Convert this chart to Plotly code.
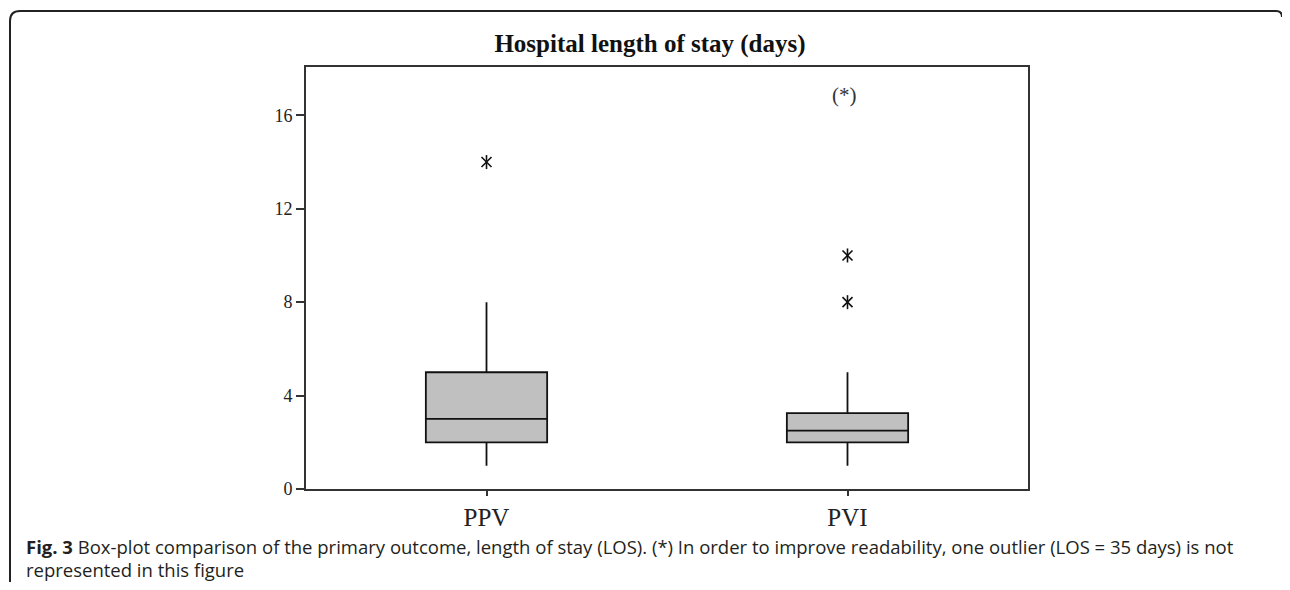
import plotly.graph_objects as go

# ---- data ----
groups = ["PPV", "PVI"]
q1 = [2, 2]
medians = [3, 2.5]
q3 = [5, 3.25]
lower_whisker = [1, 1]
upper_whisker = [8, 5]
outlier_groups = ["PPV", "PVI", "PVI"]
outlier_values = [14, 10, 8]
y_ticks = [0, 4, 8, 12, 16]
note_group = "PVI"
note_value = 16.85
title_text = "Hospital length of stay (days)"
caption_line1 = ("<b>Fig. 3</b> Box-plot comparison of the primary outcome, length of stay (LOS). "
                 "(*) In order to improve readability, one outlier (LOS = 35 days) is not")
caption_line2 = "represented in this figure"

# ---- layout geometry (page pixels; the page body has an 8px margin) ----
OFF = 8
W, H = 1290 - 2 * OFF, 590 - 2 * OFF
L, R, T, B = 306 - OFF, 1028 - OFF, 67 - OFF, 489 - OFF
pw, ph = R - L, B - T


def px(xpage):
    return (xpage - OFF - L) / pw


def py(ypage):
    return (B - (ypage - OFF)) / ph


fig = go.Figure()
fig.add_trace(go.Box(
    x=groups, q1=q1, median=medians, q3=q3,
    lowerfence=lower_whisker, upperfence=upper_whisker,
    fillcolor="#c0c0c0", line=dict(color="#111111", width=1.8),
    width=0.336, whiskerwidth=0, boxpoints=False, showlegend=False, hoverinfo="y",
))
for sym in ["x-thin-open", "line-ns-open"]:
    fig.add_trace(go.Scatter(
        x=outlier_groups, y=outlier_values, mode="markers",
        marker=dict(symbol=sym, size=10, color="#111111",
                    line=dict(color="#111111", width=1.6)),
        showlegend=False, hoverinfo="y",
    ))

fig.add_annotation(x=note_group, y=note_value, text="(*)", showarrow=False,
                   xshift=-3, font=dict(family="Liberation Serif", size=21, color="#333333"))

# frame around figure + caption
r = 10
path = (f"M {px(10)},{py(600)} L {px(10)},{py(11 + r)} "
        f"Q {px(10)},{py(11)} {px(10 + r)},{py(11)} "
        f"L {px(1276)},{py(11)} Q {px(1282)},{py(11)} {px(1282)},{py(17)}")
fig.add_shape(type="path", path=path, xref="paper", yref="paper",
              line=dict(color="#222222", width=2))

fig.add_annotation(x=px(25), y=py(546), xref="paper", yref="paper", text=caption_line1,
                   showarrow=False, xanchor="left", yanchor="middle", borderpad=0,
                   font=dict(family="Open Sans", size=18.5, color="#231f20"))
fig.add_annotation(x=px(25), y=py(569.5), xref="paper", yref="paper", text=caption_line2,
                   showarrow=False, xanchor="left", yanchor="middle", borderpad=0,
                   font=dict(family="Open Sans", size=18.5, color="#231f20"))

fig.update_layout(
    width=W, height=H,
    margin=dict(l=L, r=W - R, t=T, b=H - B, pad=0),
    paper_bgcolor="white", plot_bgcolor="white",
    title=dict(text=title_text, x=(650 - OFF) / W, xanchor="center",
               y=1 - (43 - OFF) / H, yanchor="middle",
               font=dict(family="Liberation Serif", size=25, color="#111111", weight="bold")),
    xaxis=dict(type="category", range=[-0.5, 1.5], showgrid=False, zeroline=False,
               showline=True, linecolor="#333333", linewidth=2, mirror=True,
               ticks="outside", ticklen=5, tickwidth=1.5, tickcolor="#333333",
               tickfont=dict(family="Liberation Serif", size=25, color="#222222")),
    yaxis=dict(range=[0, 18.07], tickvals=y_ticks, showgrid=False, zeroline=False,
               showline=True, linecolor="#333333", linewidth=2, mirror=True,
               ticks="outside", ticklen=8, tickwidth=1.5, tickcolor="#333333",
               tickfont=dict(family="Liberation Serif", size=18, color="#222222")),
)

fig.write_html("out.html")
